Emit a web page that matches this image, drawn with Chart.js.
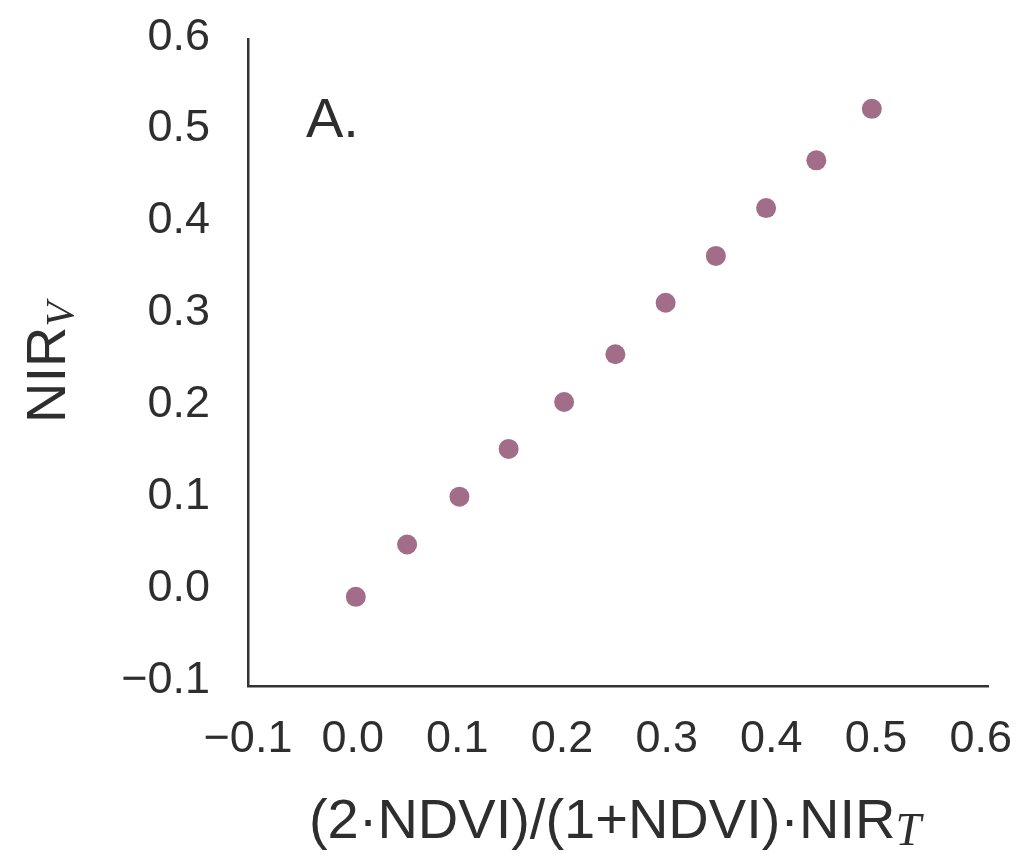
<!DOCTYPE html>
<html>
<head>
<meta charset="utf-8">
<script src="https://cdn.jsdelivr.net/npm/chart.js@4.4.1/dist/chart.umd.min.js"></script>
<style>
    html, body { margin: 0; padding: 0; background: #fff; }
</style>
</head>
<body>
<canvas id="scatterChart" width="1031" height="857"></canvas>
<script>
// Dados
const xValues = [0.003, 0.052, 0.102, 0.149, 0.202, 0.251, 0.299, 0.347, 0.395, 0.443, 0.496];
const nirvValues = [-0.009, 0.048, 0.100, 0.152, 0.203, 0.255, 0.311, 0.362, 0.414, 0.466, 0.522];
const tickValues = [-0.1, 0.0, 0.1, 0.2, 0.3, 0.4, 0.5, 0.6];
const tickLabels = ['\u22120.1', '0.0', '0.1', '0.2', '0.3', '0.4', '0.5', '0.6'];

const FONT = '"Liberation Sans", Arial, sans-serif';
const TEXT = '#2e2e2e';

// Títulos com subscrito e o rótulo "A."
function drawWithSub(ctx, main, sub, x, y, size, subSize, subDrop) {
    ctx.font = size + 'px ' + FONT;
    const w1 = ctx.measureText(main).width;
    ctx.font = 'italic ' + subSize + 'px "Liberation Serif", serif';
    const w2 = ctx.measureText(sub).width;
    const start = x - (w1 + w2) / 2;
    ctx.textAlign = 'left';
    ctx.textBaseline = 'alphabetic';
    ctx.font = size + 'px ' + FONT;
    ctx.fillText(main, start, y);
    ctx.font = 'italic ' + subSize + 'px "Liberation Serif", serif';
    ctx.fillText(sub, start + w1, y + subDrop);
}

const titlesPlugin = {
    id: 'titlesPlugin',
    afterDraw(chart) {
        const ctx = chart.ctx;
        const area = chart.chartArea;
        ctx.save();
        ctx.fillStyle = TEXT;

        // título do eixo x
        drawWithSub(ctx, '(2\u00B7NDVI)/(1+NDVI)\u00B7NIR', 'T', (area.left + area.right) / 2 - 3, 838, 56, 46, 7);

        // título do eixo y (rodado)
        ctx.save();
        ctx.translate(65, (area.top + area.bottom) / 2);
        ctx.rotate(-Math.PI / 2);
        drawWithSub(ctx, 'NIR', 'V', 0, 0, 56, 40, 8);
        ctx.restore();

        // rótulo do painel
        ctx.font = '56px ' + FONT;
        ctx.textAlign = 'left';
        ctx.textBaseline = 'alphabetic';
        ctx.fillText('A.', 306, 137);
        ctx.restore();
    }
};

const ctx = document.getElementById('scatterChart').getContext('2d');
const scatterChart = new Chart(ctx, {
    type: 'scatter',
    data: {
        datasets: [{
            label: 'NIRv',
            data: xValues.map((x, i) => ({ x: x, y: nirvValues[i] })),
            backgroundColor: '#a26d88',
            borderWidth: 0,
            pointRadius: 10,
            pointHoverRadius: 10
        }]
    },
    options: {
        responsive: false,
        animation: false,
        layout: { padding: { left: 0, right: 43, top: 39, bottom: 0 } },
        plugins: {
            legend: { display: false },
            tooltip: { enabled: false }
        },
        scales: {
            x: {
                type: 'linear',
                min: -0.1,
                max: 0.607,
                afterBuildTicks: scale => { scale.ticks = tickValues.map(v => ({ value: v })); },
                afterFit: scale => {
                    scale.height = 171;
                    scale.paddingLeft = 0;
                    scale.paddingRight = 0;
                },
                grid: { display: false, drawTicks: false },
                border: { display: true, color: '#333', width: 2.5 },
                ticks: {
                    padding: 27,
                    color: TEXT,
                    font: { family: FONT, size: 45 },
                    maxRotation: 0,
                    autoSkip: false,
                    callback: (v, i) => tickLabels[i]
                }
            },
            y: {
                type: 'linear',
                min: -0.106,
                max: 0.598,
                afterBuildTicks: scale => { scale.ticks = tickValues.map(v => ({ value: v })); },
                afterFit: scale => {
                    scale.width = 248;
                    scale.paddingTop = 0;
                    scale.paddingBottom = 0;
                },
                grid: { display: false, drawTicks: false },
                border: { display: true, color: '#333', width: 2.5 },
                ticks: {
                    padding: 38,
                    color: TEXT,
                    font: { family: FONT, size: 45 },
                    autoSkip: false,
                    callback: (v, i) => tickLabels[i]
                }
            }
        }
    },
    plugins: [titlesPlugin]
});
</script>
</body>
</html>
